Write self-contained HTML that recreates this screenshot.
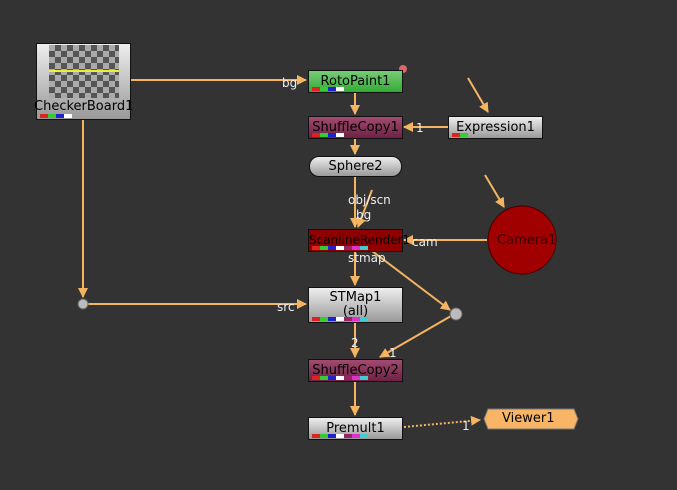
<!DOCTYPE html>
<html><head><style>
body{margin:0;width:677px;height:490px;background:#333;overflow:hidden;position:relative;font-family:"DejaVu Sans","Liberation Sans",sans-serif;}
.n{position:absolute;box-sizing:border-box;border:1px solid #111;color:#000;font-size:13px;text-align:center;white-space:nowrap;}
.g{background:linear-gradient(#eee,#999);}
.sw{position:absolute;left:3px;bottom:1px;height:4px;display:flex;}
.sw i{display:block;width:8px;height:4px;}
.t{position:absolute;color:#eee;font-size:12px;}
svg{position:absolute;left:0;top:0;}
</style></head><body>
<svg width="677" height="490">
<defs><marker id="a" markerWidth="10" markerHeight="10" refX="9" refY="5" orient="auto" markerUnits="userSpaceOnUse"><path d="M0,0 L10,5 L0,10 z" fill="#f5b461"/></marker></defs>
<g stroke="#f5b461" stroke-width="2" fill="none">
<line x1="130" y1="80" x2="306" y2="80" marker-end="url(#a)"/>
<line x1="355" y1="92" x2="355" y2="114" marker-end="url(#a)"/>
<line x1="355" y1="138" x2="355" y2="154" marker-end="url(#a)"/>
<line x1="448" y1="127" x2="404" y2="127" marker-end="url(#a)"/>
<line x1="468" y1="78" x2="488" y2="112" marker-end="url(#a)"/>
<line x1="355" y1="176" x2="355" y2="227" marker-end="url(#a)"/>
<line x1="372" y1="190" x2="358" y2="227" marker-end="url(#a)"/>
<line x1="487" y1="240" x2="404" y2="240" marker-end="url(#a)"/>
<line x1="485" y1="175" x2="504" y2="207" marker-end="url(#a)"/>
<line x1="355" y1="251" x2="355" y2="285" marker-end="url(#a)"/>
<line x1="372" y1="251" x2="450" y2="310" marker-end="url(#a)"/>
<line x1="83" y1="119" x2="83" y2="297" marker-end="url(#a)"/>
<line x1="88" y1="304" x2="306" y2="304" marker-end="url(#a)"/>
<line x1="451" y1="316" x2="380" y2="357" marker-end="url(#a)"/>
<line x1="355" y1="322" x2="355" y2="357" marker-end="url(#a)"/>
<line x1="355" y1="381" x2="355" y2="415" marker-end="url(#a)"/>
<line x1="404" y1="427" x2="480" y2="420" stroke-dasharray="2,2" marker-end="url(#a)"/>
</g>
<circle cx="83" cy="304" r="5" fill="#bbb" stroke="#666"/>
<circle cx="456" cy="314" r="6" fill="#bbb" stroke="#666"/>
<circle cx="522" cy="240" r="34" fill="#a00000" stroke="#400" stroke-width="1"/>
<polygon points="488,409 574,409 578,419 574,429 488,429 484,419" fill="#f7b565" stroke="#777"/>
<circle cx="403" cy="69" r="4" fill="#d66"/>
</svg>
<div class="n g" style="left:36px;top:43px;width:95px;height:77px;">
<div style="position:absolute;left:12px;top:1px;width:70px;height:53px;background-color:#aaa;background-image:linear-gradient(45deg,#555 25%,transparent 25%,transparent 75%,#555 75%),linear-gradient(45deg,#555 25%,transparent 25%,transparent 75%,#555 75%);background-size:12px 12px;background-position:0 0,6px 6px;"></div>
<div style="position:absolute;left:12px;top:26px;width:70px;height:2px;background:#ee3;"></div>
<div style="position:absolute;left:-3px;right:-3px;top:55px;">CheckerBoard1</div>
<div class="sw"><i style="background:#d22"></i><i style="background:#3c3"></i><i style="background:#22c"></i><i style="background:#fff"></i></div></div>
<div class="n" style="left:308px;top:70px;width:95px;height:23px;background:linear-gradient(#7c7,#3a3);line-height:21px;">RotoPaint1<div class="sw"><i style="background:#d22"></i><i style="background:#3c3"></i><i style="background:#22c"></i><i style="background:#fff"></i></div></div>
<div class="n" style="left:308px;top:116px;width:95px;height:23px;background:linear-gradient(#a34a70,#6d2244);line-height:21px;">ShuffleCopy1<div class="sw"><i style="background:#d22"></i><i style="background:#3c3"></i><i style="background:#22c"></i><i style="background:#fff"></i></div></div>
<div class="n g" style="left:448px;top:116px;width:95px;height:23px;line-height:21px;">Expression1<div class="sw"><i style="background:#d22"></i><i style="background:#3c3"></i></div></div>
<div class="n g" style="left:309px;top:156px;width:93px;height:21px;border-radius:10px;line-height:19px;">Sphere2</div>
<div class="n" style="left:308px;top:229px;width:95px;height:23px;background:#8e0000;line-height:21px;font-size:12px;">ScanlineRender1<div class="sw"><i style="background:#d22"></i><i style="background:#3c3"></i><i style="background:#22c"></i><i style="background:#fff"></i><i style="background:#926"></i><i style="background:#d3c"></i><i style="background:#4cc"></i></div></div>
<div class="n g" style="left:308px;top:287px;width:95px;height:36px;line-height:14px;padding-top:3px;">STMap1<br>(all)<div class="sw"><i style="background:#d22"></i><i style="background:#3c3"></i><i style="background:#22c"></i><i style="background:#fff"></i><i style="background:#926"></i><i style="background:#d3c"></i><i style="background:#4cc"></i></div></div>
<div class="n" style="left:308px;top:359px;width:95px;height:23px;background:linear-gradient(#a34a70,#6d2244);line-height:21px;">ShuffleCopy2<div class="sw"><i style="background:#d22"></i><i style="background:#3c3"></i><i style="background:#22c"></i><i style="background:#fff"></i><i style="background:#926"></i><i style="background:#d3c"></i><i style="background:#4cc"></i></div></div>
<div class="n g" style="left:308px;top:417px;width:95px;height:23px;line-height:21px;">Premult1<div class="sw"><i style="background:#d22"></i><i style="background:#3c3"></i><i style="background:#22c"></i><i style="background:#fff"></i><i style="background:#926"></i><i style="background:#d3c"></i><i style="background:#4cc"></i></div></div>
<div class="t" style="left:497px;top:233px;color:#300;font-size:13px;">Camera1</div>
<div class="t" style="left:502px;top:411px;color:#000;font-size:13px;">Viewer1</div>
<div class="t" style="left:282px;top:76px;">bg</div>
<div class="t" style="left:416px;top:121px;">1</div>
<div class="t" style="left:348px;top:193px;">obj/scn</div>
<div class="t" style="left:356px;top:208px;">bg</div>
<div class="t" style="left:412px;top:235px;">cam</div>
<div class="t" style="left:348px;top:251px;">stmap</div>
<div class="t" style="left:277px;top:300px;">src</div>
<div class="t" style="left:351px;top:336px;">2</div>
<div class="t" style="left:389px;top:346px;">1</div>
<div class="t" style="left:462px;top:419px;">1</div>
</body></html>
